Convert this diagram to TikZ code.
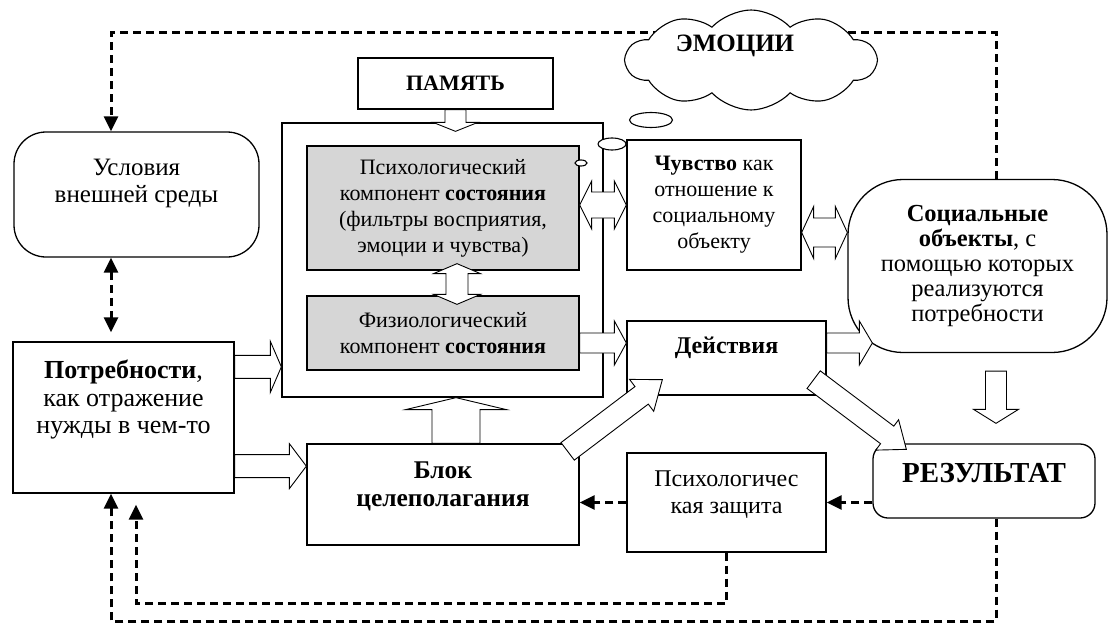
\documentclass[tikz,border=0pt]{standalone}
\usepackage{fontspec}
\setmainfont{Liberation Serif}
\usetikzlibrary{calc,shapes.symbols,shapes.geometric,arrows.meta}

% hollow block arrow: tail, tip, half shaft, half head, head length
\newcommand\blockarrow[5]{%
  \coordinate (ba) at ($(#2)!#5!(#1)$);
  \draw[blockline] ($(#1)!#3!90:(#2)$) -- ($(ba)!#3!90:(#2)$)
    -- ($(ba)!#4!90:(#2)$) -- (#2) -- ($(ba)!#4!-90:(#2)$)
    -- ($(ba)!#3!-90:(#2)$) -- ($(#1)!#3!-90:(#2)$) -- cycle;}
% the same with a head at both ends
\newcommand\twoblockarrow[5]{%
  \coordinate (ba) at ($(#1)!#5!(#2)$);
  \coordinate (bb) at ($(#2)!#5!(#1)$);
  \draw[blockline] (#1) -- ($(ba)!#4!90:(#2)$) -- ($(ba)!#3!90:(#2)$)
    -- ($(bb)!#3!90:(#2)$) -- ($(bb)!#4!90:(#2)$) -- (#2)
    -- ($(bb)!#4!-90:(#2)$) -- ($(bb)!#3!-90:(#2)$)
    -- ($(ba)!#3!-90:(#2)$) -- ($(ba)!#4!-90:(#2)$) -- cycle;}

\begin{document}
\begin{tikzpicture}[x=1pt, y=-1pt,
  every node/.style = {font=\fontsize{22}{26}\selectfont, align=center},
  big/.style = {font=\fontsize{#1}{27.5}\selectfont},
  box/.style = {draw, line width=1.3pt, inner sep=0pt},
  shaded/.style = {box, fill=black!16},
  rbox/.style = {box, rounded corners=#1},
  thought/.style = {ellipse, draw, fill=white, line width=1.1pt, inner sep=0pt},
  blockline/.style = {draw, fill=white, line width=0.9pt, line join=miter},
  dashline/.style = {line width=3pt, dash pattern=on 8pt off 5pt},
  >={Triangle[length=15pt, width=14pt]}]
  \useasboundingbox (0,0) rectangle (1108,626);

  % lanes of the dashed loops
  \coordinate (lx) at (111,0);
  \coordinate (ix) at (136,0);
  \coordinate (rx) at (996,0);
  \coordinate (ty) at (0,33);
  \coordinate (my) at (0,603);
  \coordinate (by) at (0,621);

  \node[rbox=32pt, minimum width=245pt, minimum height=125pt,
    label={[big=25, shift={(0,-11)}]center:{Условия\\ внешней среды}}] (usl) at (136.5,194.5) {};
  \node[box, minimum width=221pt, minimum height=151pt,
    label={[big=26, shift={(0,-18)}]center:{\textbf{Потребности},\\ как отражение\\ нужды в чем-то}}] (potr) at (123.5,417.5) {};
  \node[box, minimum width=321pt, minimum height=274pt] (sost) at (442.5,260) {};
  \node[box, minimum width=195pt, minimum height=51pt] (pam) at (455.5,83.5) {\textbf{ПАМЯТЬ}};
  \node[shaded, minimum width=272pt, minimum height=124pt] (psy) at (443,208)
    {Психологический\\ компонент \textbf{состояния}\\ (фильтры восприятия,\\ эмоции и чувства)};
  \node[shaded, minimum width=272pt, minimum height=74pt] (phys) at (443,333)
    {Физиологический\\ компонент \textbf{состояния}};
  \node[box, minimum width=174pt, minimum height=130pt] (chuv) at (714,205)
    {\textbf{Чувство} как\\ отношение к\\ социальному\\ объекту};
  \node[rbox=55pt, minimum width=259pt, minimum height=173pt,
    font=\fontsize{24.5}{25}\selectfont] (soc) at (977.5,266)
    {\textbf{Социальные}\\ \textbf{объекты}, с\\ помощью которых\\ реализуются\\ потребности};
  \node[box, minimum width=199pt, minimum height=74pt,
    label={[big=24, shift={(0,-10)}]center:\textbf{Действия}}] (deis) at (726.5,358) {};
  \node[box, minimum width=272pt, minimum height=101pt,
    label={[big=25.5, shift={(0,-8)}]center:{\textbf{Блок}\\ \textbf{целеполагания}}}] (blok) at (443,494.5) {};
  \node[box, minimum width=199pt, minimum height=99pt,
    label={[big=24, shift={(0,-8)}]center:{Психологичес\\ кая защита}}] (zash) at (726.5,502.5) {};
  \node[rbox=15pt, minimum width=222pt, minimum height=74pt,
    label={[shift={(0,-8)}, font=\fontsize{29}{30}\selectfont\bfseries]center:РЕЗУЛЬТАТ}] (rez) at (984,481) {};

  % dashed feedback loops
  \draw[dashline, ->] (soc.north -| rx) -- (ty -| rx) -- (ty -| lx) -- (usl.north -| lx);
  \draw[dashline, <->, shorten >=9pt] (usl.south -| lx) -- (potr.north -| lx);
  \draw[dashline, ->] (rez.south -| rx) -- (by -| rx) -- (by -| lx) -- (potr.south -| lx);
  \draw[dashline, ->, shorten >=11pt] (zash.south) -- (my -| zash.south) -- (my -| ix) -- (potr.south -| ix);
  \draw[dashline, ->] (rez.west |- zash.east) -- (zash.east);
  \draw[dashline, ->] (zash.west) -- (zash.west -| blok.east);

  \node[cloud, draw, fill=white, line width=1.1pt, cloud puffs=10, cloud puff arc=95,
    aspect=2.5, minimum width=250pt, minimum height=100pt, inner sep=0pt,
    label={[shift={(-16,-14)}, font=\fontsize{25}{28}\selectfont\bfseries]center:ЭМОЦИИ}] (emo) at (751,60) {};
  \node[thought, minimum width=43pt, minimum height=15pt] (th2) at (651,120) {};
  \node[thought, minimum width=28pt, minimum height=12pt] (th1) at (612,144) {};
  \node[thought, minimum width=12pt, minimum height=6pt] (th0) at (581,163) {};

  % block arrows
  \coordinate (m1) at (pam.south |- sost.north);
  \coordinate (m2) at ([shift={(0,9)}]m1);
  \blockarrow{pam.south}{m2}{10.5pt}{22.5pt}{9pt}
  \coordinate (k1) at ([shift={(14,-7)}]psy.south);
  \coordinate (k2) at ([shift={(14,9)}]phys.north);
  \twoblockarrow{k1}{k2}{11pt}{23.5pt}{10pt}
  \coordinate (c1) at (psy.east |- chuv.west);
  \twoblockarrow{c1}{chuv.west}{13pt}{24pt}{12pt}
  \coordinate (s1) at ([shift={(0,27.5)}]chuv.east);
  \coordinate (s2) at (s1 -| soc.west);
  \twoblockarrow{s1}{s2}{14.5pt}{26pt}{12pt}
  \coordinate (p1) at ([shift={(0,25.5)}]potr.north east);
  \coordinate (p2) at (p1 -| sost.west);
  \blockarrow{p1}{p2}{11.5pt}{25.5pt}{11pt}
  \coordinate (p3) at ([shift={(0,-27.5)}]potr.south east);
  \coordinate (p4) at (p3 -| blok.west);
  \blockarrow{p3}{p4}{11.5pt}{22.5pt}{17pt}
  \coordinate (d1) at ([shift={(0,10)}]phys.east);
  \coordinate (d2) at (d1 -| deis.west);
  \blockarrow{d1}{d2}{10pt}{22pt}{12pt}
  \coordinate (d3) at (d1 -| deis.east);
  \coordinate (d4) at (d1 -| soc.west);
  \coordinate (d5) at ([shift={(25,0)}]d4);
  \blockarrow{d3}{d5}{10pt}{22pt}{13pt}
  \coordinate (u1) at ([shift={(13,0)}]blok.north);
  \coordinate (u2) at (u1 |- sost.south);
  \blockarrow{u1}{u2}{24pt}{50.5pt}{12pt}
  \coordinate (g1) at ([shift={(-12,8)}]blok.north east);
  \coordinate (g2) at ([shift={(36,-16)}]deis.south west);
  \blockarrow{g1}{g2}{11pt}{20pt}{26pt}
  \coordinate (r1) at ([shift={(-13,-16)}]deis.south east);
  \coordinate (r2) at ([shift={(34,6)}]rez.north west);
  \blockarrow{r1}{r2}{11pt}{19pt}{24pt}
  \coordinate (l0) at (soc.south -| rx);
  \coordinate (l1) at ([shift={(0,18)}]l0);
  \coordinate (l3) at (rez.north -| rx);
  \coordinate (l2) at ([shift={(0,-20)}]l3);
  \blockarrow{l1}{l2}{10.5pt}{22.5pt}{14pt}
\end{tikzpicture}
\end{document}
